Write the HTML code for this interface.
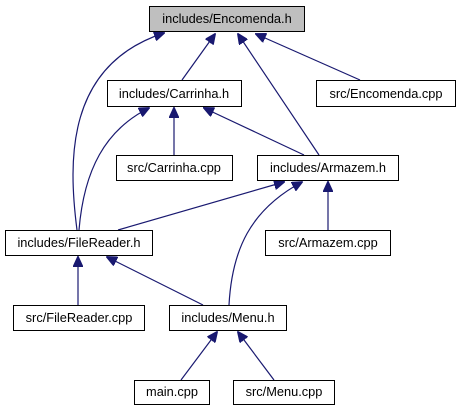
<!DOCTYPE html>
<html><head><meta charset="utf-8"><style>
html,body{margin:0;padding:0;background:#fff;width:460px;height:411px;overflow:hidden}
text{font-family:"Liberation Sans",Arial,sans-serif;font-size:12.8px;fill:#000}
</style></head><body>
<svg width="460" height="411" viewBox="0 0 460 411" xmlns="http://www.w3.org/2000/svg">
<defs><marker id="a" markerWidth="11" markerHeight="10" refX="10" refY="5" orient="auto" markerUnits="userSpaceOnUse"><path d="M0,0 L11,5 L0,10 Z" fill="#191970" stroke="#191970"/></marker></defs>
<g fill="none" stroke="#191970" stroke-width="1.2" marker-end="url(#a)">
<path d="M77,230 C68,160 66,65 164,33"/>
<path d="M182,80 L215,34"/>
<path d="M319,155 L238,34"/>
<path d="M360,80 L256,34"/>
<path d="M79,230 C84,170 105,130 149,108"/>
<path d="M174,155 L174,108"/>
<path d="M304,155 L204,108"/>
<path d="M118,230 L284,182"/>
<path d="M229,305 C232,250 250,210 302,182"/>
<path d="M328,230 L328,182"/>
<path d="M78,305 L78,257"/>
<path d="M203,305 L107,257"/>
<path d="M181,380 L217,332"/>
<path d="M274,380 L238,332"/>
</g>
<g stroke="#000" stroke-width="1" fill="#fff">
<rect x="149.5" y="6.5" width="155" height="25" fill="#bfbfbf"/>
<rect x="107.5" y="80.5" width="134" height="26"/>
<rect x="316.5" y="80.5" width="139" height="26"/>
<rect x="116.5" y="155.5" width="116" height="25"/>
<rect x="257.5" y="155.5" width="141" height="25"/>
<rect x="5.5" y="230.5" width="147" height="25"/>
<rect x="265.5" y="230.5" width="125" height="25"/>
<rect x="13.5" y="305.5" width="131" height="25"/>
<rect x="169.5" y="305.5" width="117" height="25"/>
<rect x="134.5" y="380.5" width="75" height="24"/>
<rect x="233.5" y="380.5" width="101" height="24"/>
</g>
<g text-anchor="middle">
<text x="227" y="23">includes/Encomenda.h</text>
<text x="174" y="98">includes/Carrinha.h</text>
<text x="386" y="98">src/Encomenda.cpp</text>
<text x="174" y="172">src/Carrinha.cpp</text>
<text x="328" y="172">includes/Armazem.h</text>
<text x="79" y="247">includes/FileReader.h</text>
<text x="328" y="247">src/Armazem.cpp</text>
<text x="79" y="322">src/FileReader.cpp</text>
<text x="228" y="322">includes/Menu.h</text>
<text x="172" y="396">main.cpp</text>
<text x="284" y="396">src/Menu.cpp</text>
</g>
</svg>
</body></html>
